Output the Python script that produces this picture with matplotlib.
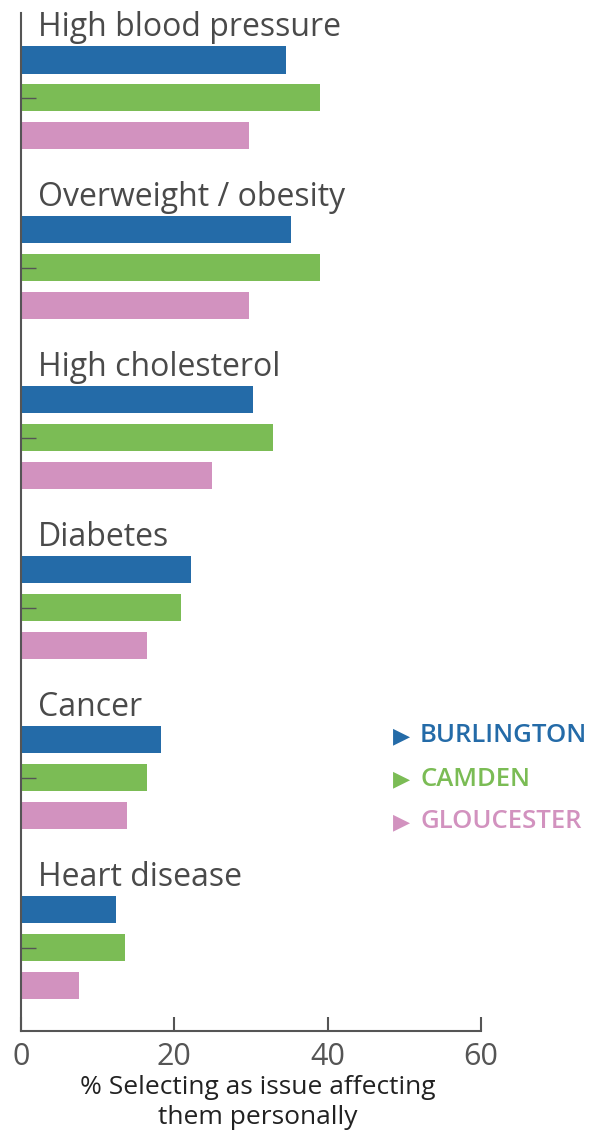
import matplotlib.pyplot as plt
import numpy as np

# data
issues = ['High blood pressure', 'Overweight / obesity', 'High cholesterol',
          'Diabetes', 'Cancer', 'Heart disease']
burlington = [34.6, 35.2, 30.3, 22.2, 18.3, 12.4]
camden = [39.0, 39.0, 32.9, 20.9, 16.4, 13.6]
gloucester = [29.7, 29.7, 24.9, 16.4, 13.8, 7.6]
counties = ['BURLINGTON', 'CAMDEN', 'GLOUCESTER']
colors = ['#246BA8', '#7BBC55', '#D292BF']
xticks = [0, 20, 40, 60]

plt.rcParams['font.family'] = ['Open Sans', 'DejaVu Sans']
axis_col = '#555555'

fig = plt.figure(figsize=(5.95, 11.4), dpi=100)
W, H = 595, 1140
ax = fig.add_axes([21 / W, 1 - 1031 / H, 460 / W, (1031 - 13) / H])

pos = np.arange(len(issues))
off = 0.2235
h = 0.159
for i, (vals, c) in enumerate(zip([burlington, camden, gloucester], colors)):
    ax.barh(pos + (i - 1) * off, vals, height=h, color=c, zorder=2)
ax.set_axisbelow(False)

for p, name in zip(pos, issues):
    ax.text(17 / 7.667, p - 0.365, name, fontsize=23, color='#4a4a4a',
            va='baseline', ha='left')

ax.set_xlim(0, 60)
ax.set_ylim(5.49, -0.5)
ax.set_xticks(xticks)
ax.set_yticks(pos)
ax.set_yticklabels([])
for s in ['top', 'right']:
    ax.spines[s].set_visible(False)
for s in ['left', 'bottom']:
    ax.spines[s].set_color(axis_col)
    ax.spines[s].set_linewidth(1.5)
    ax.spines[s].set_zorder(3)
ax.tick_params(axis='x', direction='in', length=10, width=1.5, color=axis_col,
               labelsize=22, labelcolor=axis_col, pad=8)
ax.tick_params(axis='y', direction='in', length=11, width=1, color=axis_col)
ax.set_xlabel('% Selecting as issue affecting\nthem personally', fontsize=19,
              color='#222222', linespacing=1.3)
ax.xaxis.set_label_coords(0.515, -0.043)
ax.xaxis.label.set_va('top')

# legend drawn as coloured text
for k, (name, c) in enumerate(zip(counties, colors)):
    y = 1 - (736 + 43 * k) / H
    fig.text(393 / W, y, '\u25B6', fontsize=16, color=c, va='center',
             ha='left', family='DejaVu Sans')
    fig.text(420 / W, y, name, fontsize=18.5, color=c, va='center', ha='left',
             fontweight='semibold')

fig.savefig('out.png', dpi=100)
